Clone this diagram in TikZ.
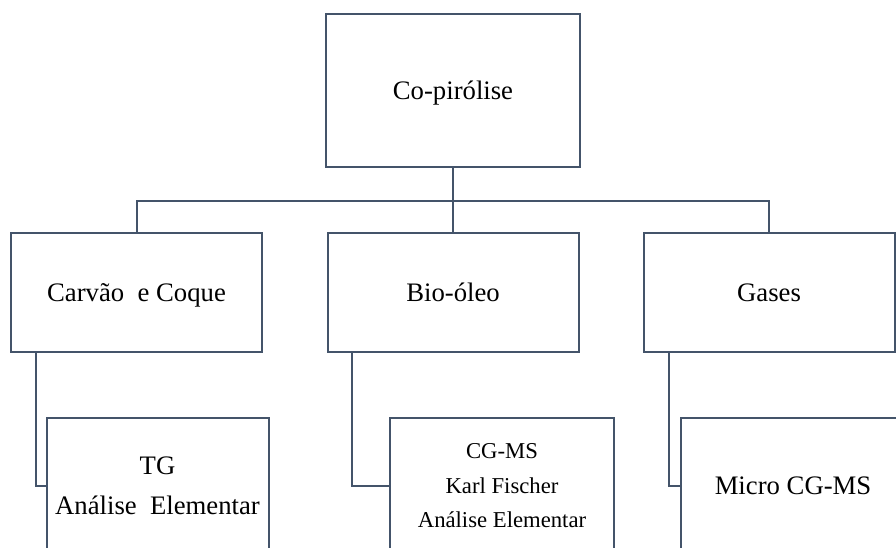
\documentclass[tikz,border=0pt]{standalone}
\usepackage{fontspec}
\setmainfont{Liberation Serif}
\usetikzlibrary{positioning}
\definecolor{boxline}{HTML}{44546A}

\begin{document}
\begin{tikzpicture}[
  x=1pt, y=1pt,
  box/.style={draw=boxline, line width=2pt, inner sep=0pt, align=center,
              font=\fontsize{26.7}{40}\selectfont},
  lvl/.style={box, text depth=0pt, minimum width=251pt, minimum height=119pt},
  sub/.style={box, minimum width=222pt, minimum height=136pt},
  link/.style={draw=boxline, line width=2pt}
]
\clip (0,0) rectangle (896,547);
\node[box, text depth=0pt, minimum width=254pt, minimum height=153pt] (cop) at (453,456.5) {Co-pirólise};
\node[lvl] (carvao) at (136.5,254.5) {Carvão\ \ e Coque};
\node[lvl] (bio) at (453,254.5) {Bio-óleo};
\node[lvl] (gases) at (769,254.5) {Gases};
\node[sub] (tg) at (157.5,61) {TG\\Análise\ \ Elementar};
\node[sub, minimum width=224pt, font=\fontsize{22.7}{34.5}\selectfont] (cgms) at (502,61)
  {CG-MS\\Karl Fischer\\Análise Elementar};
\node[sub, minimum width=224pt] (micro) at (793,61) {Micro CG-MS};
% top level to the three products
\draw[link, line width=2.6pt] (cop.south) -- ++(0,-33) coordinate (bus);
\draw[link] (bus) -| (carvao.north);
\draw[link] (bus) -| (gases.north);
\draw[link] (bus) -- (bio.north);
% products to analyses
\draw[link] ([xshift=26pt]carvao.south west) |- (tg.west);
\draw[link] ([xshift=25pt]bio.south west) |- (cgms.west);
\draw[link] ([xshift=26pt]gases.south west) |- (micro.west);
\end{tikzpicture}
\end{document}
